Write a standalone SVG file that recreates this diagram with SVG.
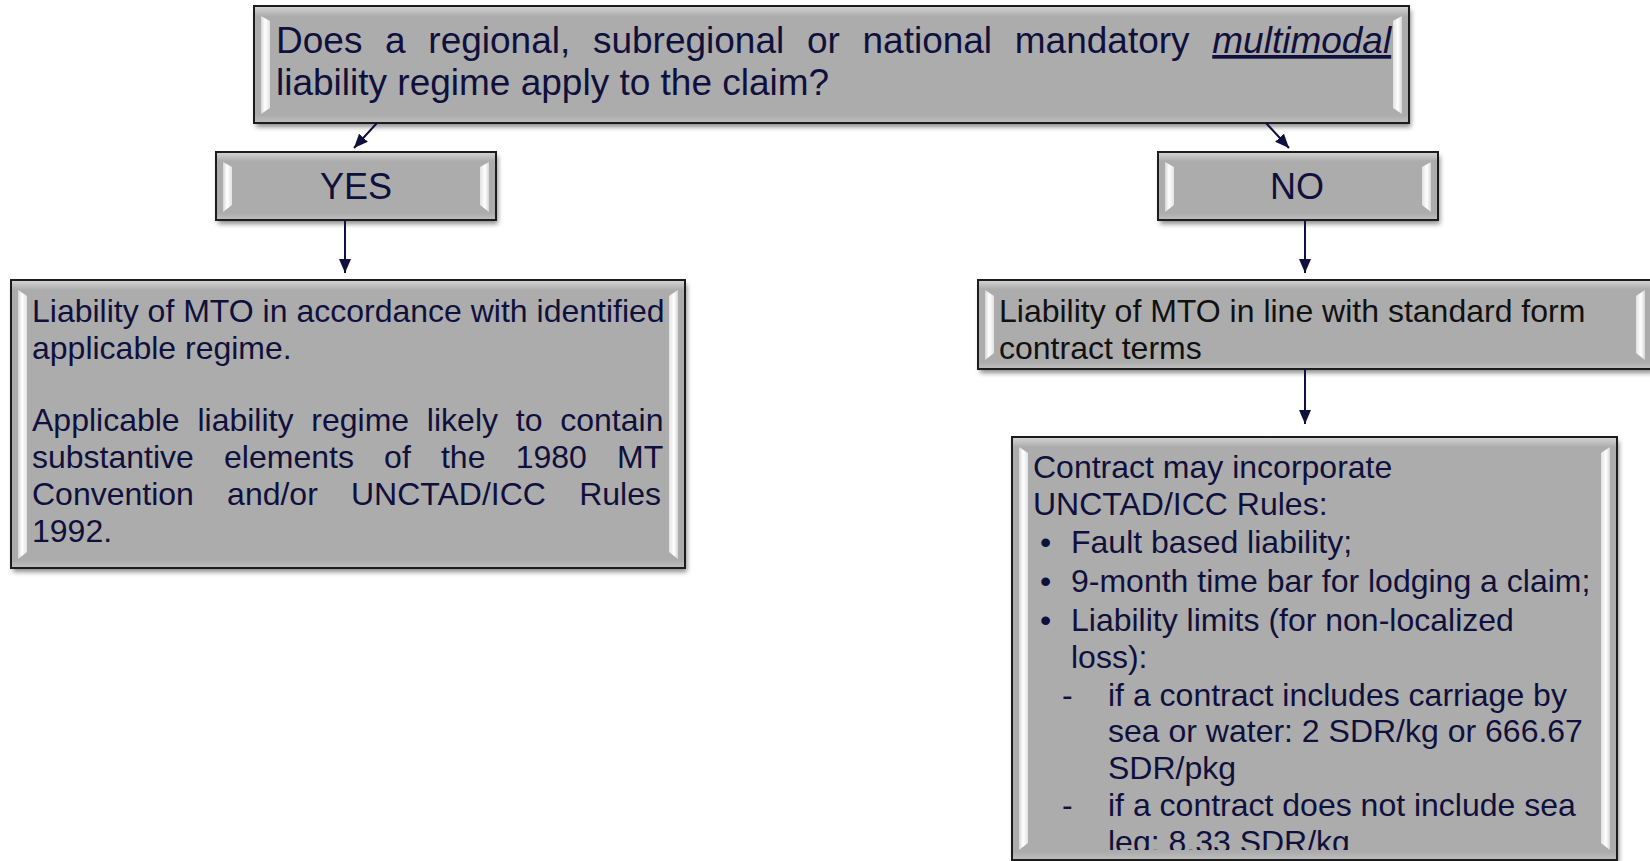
<svg xmlns="http://www.w3.org/2000/svg" width="1650" height="861" viewBox="0 0 1650 861">
<style>
text{font-family:"Liberation Sans",Arial,sans-serif;fill:#10103c}
.t37{font-size:37px}
.t36{font-size:36px}
.t32{font-size:32px}
.blk{fill:#111111}
.box{fill:#acacac;stroke:#1c1c1c;stroke-width:2}
.shadow{fill:#000;opacity:0.45;filter:url(#blur)}
.top{fill:url(#topg)}
.bot{fill:url(#botg)}
.hl{fill:url(#hlg)}
.hr{fill:url(#hrg)}
.conn{stroke:#10103c;stroke-width:2;fill:none;marker-end:url(#arr)}
</style>
<defs>
<filter id="blur" x="-5%" y="-10%" width="110%" height="130%"><feGaussianBlur stdDeviation="2.5"/></filter>
<linearGradient id="topg" x1="0" y1="0" x2="0" y2="1"><stop offset="0" stop-color="#d2d2d2"/><stop offset="1" stop-color="#acacac"/></linearGradient>
<linearGradient id="botg" x1="0" y1="0" x2="0" y2="1"><stop offset="0" stop-color="#acacac"/><stop offset="1" stop-color="#bdbdbd"/></linearGradient>
<linearGradient id="hlg" x1="0" y1="0" x2="1" y2="0"><stop offset="0" stop-color="#d6d6d6"/><stop offset="0.45" stop-color="#ffffff"/><stop offset="1" stop-color="#e2e2e2"/></linearGradient>
<linearGradient id="hrg" x1="1" y1="0" x2="0" y2="0"><stop offset="0" stop-color="#d6d6d6"/><stop offset="0.45" stop-color="#ffffff"/><stop offset="1" stop-color="#e2e2e2"/></linearGradient>
<marker id="arr" viewBox="0 0 14 12" refX="14" refY="6" markerWidth="14" markerHeight="12" markerUnits="userSpaceOnUse" orient="auto"><path d="M0,0 L14,6 L0,12 z" fill="#10103c"/></marker>
<clipPath id="clipBR"><rect x="1012" y="437" width="605" height="413"/></clipPath>
</defs>
<rect width="1650" height="861" fill="#ffffff"/>

<g id="question">
<rect class="shadow" x="256" y="10" width="1155" height="117"/>
<rect class="box" x="254" y="6" width="1155" height="117"/>
<rect class="top" x="255" y="7" width="1153" height="9"/>
<rect class="bot" x="255" y="115" width="1153" height="7"/>
<polygon class="hl" points="261,16 270,21 270,108 261,114"/>
<polygon class="hr" points="1402,16 1393,21 1393,108 1402,114"/>
<text class="t37" x="276" y="53" word-spacing="12.4">Does a regional, subregional or national mandatory <tspan font-style="italic" text-decoration="underline">multimodal</tspan></text>
<text class="t37" x="276" y="95">liability regime apply to the claim?</text>
</g>

<g id="yes">
<rect class="shadow" x="218" y="156" width="280" height="68"/>
<rect class="box" x="216" y="152" width="280" height="68"/>
<rect class="top" x="217" y="153" width="278" height="8"/>
<rect class="bot" x="217" y="213" width="278" height="6"/>
<polygon class="hl" points="223,162 232,167 232,205 223,212"/>
<polygon class="hr" points="489,162 480,167 480,205 489,212"/>
<text class="t36" x="356" y="199" text-anchor="middle">YES</text>
</g>

<g id="no">
<rect class="shadow" x="1160" y="156" width="280" height="68"/>
<rect class="box" x="1158" y="152" width="280" height="68"/>
<rect class="top" x="1159" y="153" width="278" height="8"/>
<rect class="bot" x="1159" y="213" width="278" height="6"/>
<polygon class="hl" points="1165,162 1174,167 1174,205 1165,212"/>
<polygon class="hr" points="1431,162 1422,167 1422,205 1431,212"/>
<text class="t36" x="1297" y="199" text-anchor="middle">NO</text>
</g>

<g id="yes-result">
<rect class="shadow" x="13" y="284" width="674" height="288"/>
<rect class="box" x="11" y="280" width="674" height="288"/>
<rect class="top" x="12" y="281" width="672" height="9"/>
<rect class="bot" x="12" y="560" width="672" height="7"/>
<polygon class="hl" points="18,290 27,296 27,552 18,559"/>
<polygon class="hr" points="678,290 669,296 669,552 678,559"/>
<text class="t32" x="32" y="322">Liability of MTO in accordance with identified</text>
<text class="t32" x="32" y="359">applicable regime.</text>
<text class="t32" x="32" y="431" word-spacing="8.9">Applicable liability regime likely to contain</text>
<text class="t32" x="32" y="468" word-spacing="21.3">substantive elements of the 1980 MT</text>
<text class="t32" x="32" y="505" word-spacing="24.3">Convention and/or UNCTAD/ICC Rules</text>
<text class="t32" x="32" y="542">1992.</text>
</g>

<g id="no-result">
<rect class="shadow" x="980" y="284" width="674" height="89"/>
<rect class="box" x="978" y="280" width="674" height="89"/>
<rect class="top" x="979" y="281" width="672" height="8"/>
<rect class="bot" x="979" y="362" width="672" height="6"/>
<polygon class="hl" points="985,290 994,296 994,353 985,360"/>
<polygon class="hr" points="1645,290 1636,296 1636,353 1645,360"/>
<text class="t32 blk" x="999" y="322">Liability of MTO in line with standard form</text>
<text class="t32 blk" x="999" y="359">contract terms</text>
</g>

<g id="unctad-rules">
<rect class="shadow" x="1014" y="441" width="605" height="423"/>
<rect class="box" x="1012" y="437" width="605" height="423"/>
<rect class="top" x="1013" y="438" width="603" height="9"/>
<rect class="bot" x="1013" y="852" width="603" height="7"/>
<polygon class="hl" points="1019,447 1028,453 1028,843 1019,850"/>
<polygon class="hr" points="1610,447 1601,453 1601,843 1610,850"/>
<g clip-path="url(#clipBR)">
<text class="t32" x="1033" y="478">Contract may incorporate</text>
<text class="t32" x="1033" y="515">UNCTAD/ICC Rules:</text>
<text class="t32" x="1040" y="553">•</text>
<text class="t32" x="1071" y="553">Fault based liability;</text>
<text class="t32" x="1040" y="592">•</text>
<text class="t32" x="1071" y="592">9-month time bar for lodging a claim;</text>
<text class="t32" x="1040" y="631">•</text>
<text class="t32" x="1071" y="631">Liability limits (for non-localized</text>
<text class="t32" x="1071" y="668">loss):</text>
<text class="t32" x="1062" y="706">-</text>
<text class="t32" x="1108" y="706">if a contract includes carriage by</text>
<text class="t32" x="1108" y="742">sea or water: 2 SDR/kg or 666.67</text>
<text class="t32" x="1108" y="779">SDR/pkg</text>
<text class="t32" x="1062" y="816">-</text>
<text class="t32" x="1108" y="816">if a contract does not include sea</text>
<text class="t32" x="1108" y="853">leg: 8.33 SDR/kg</text>
</g>
</g>

<g id="connectors">
<line class="conn" x1="377" y1="123" x2="354" y2="148"/>
<line class="conn" x1="1266" y1="123" x2="1289" y2="148"/>
<line class="conn" x1="345" y1="221" x2="345" y2="273"/>
<line class="conn" x1="1305" y1="221" x2="1305" y2="273"/>
<line class="conn" x1="1305" y1="369" x2="1305" y2="424"/>
</g>
</svg>
